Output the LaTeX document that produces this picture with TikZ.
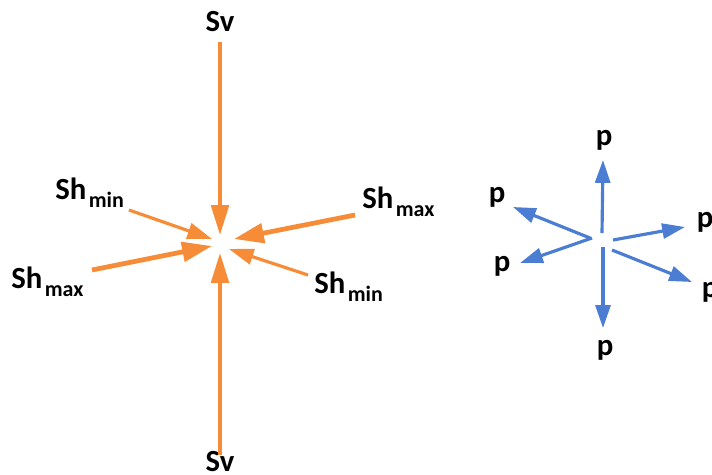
\documentclass[tikz,border=0pt]{standalone}
\usepackage{fontspec}
\setmainfont{Carlito}
\usetikzlibrary{arrows.meta}
\definecolor{stressorange}{HTML}{F68C37}
\definecolor{poreblue}{HTML}{4B7DD2}
\newcommand{\shsub}[1]{\kern0.08em\raisebox{-0.27em}{\fontsize{12.5}{13}\selectfont #1}}
\tikzset{
  lab/.style={font=\fontsize{17.5}{19}\selectfont\bfseries, inner sep=0pt},
  vert/.style={stressorange, line width=2.1pt, -{Triangle[length=17pt,width=10pt]}},
  shmax/.style={stressorange, line width=2.7pt, -{Triangle[length=17pt,width=11pt]}},
  shmin/.style={stressorange, line width=1.8pt, -{Triangle[length=14pt,width=9pt]}},
  pres/.style={poreblue, line width=1.8pt, -{Triangle[length=13pt,width=8.5pt]}}
}
\begin{document}
\begin{tikzpicture}[x=0.02cm, y=-0.02cm]
\useasboundingbox (0,0) rectangle (712,474);

\node[lab, anchor=base] (svtop) at (220,31) {Sv};
\node[lab, anchor=base] (svbot) at (220,471) {Sv};
\node[lab, anchor=base west] (shminl) at (55,199) {Sh\shsub{min}};
\node[lab, anchor=base west] (shmaxr) at (362,208) {Sh\shsub{max}};
\node[lab, anchor=base west] (shmaxl) at (11,288) {Sh\shsub{max}};
\node[lab, anchor=base west] (shminr) at (314,293) {Sh\shsub{min}};

\coordinate (vt0) at (220,42);  \coordinate (vt1) at (220,235);
\coordinate (vb0) at (220,455); \coordinate (vb1) at (220,253);
\coordinate (nl0) at (129,210); \coordinate (nl1) at (212,239);
\coordinate (xr0) at (355,215); \coordinate (xr1) at (234,239);
\coordinate (xl0) at (92,270);  \coordinate (xl1) at (212,246);
\coordinate (nr0) at (308,275); \coordinate (nr1) at (229,249);

\draw[vert] (vt0) -- (vt1);
\draw[vert] (vb0) -- (vb1);
\draw[shmin] (nl0) -- (nl1);
\draw[shmin] (nr0) -- (nr1);
\draw[shmax] (xr0) -- (xr1);
\draw[shmax] (xl0) -- (xl1);

\node[lab] (pup) at (604,140) {p};
\node[lab] (pdown) at (605,350) {p};
\node[lab] (pul) at (497,197) {p};
\node[lab] (pll) at (502,266) {p};
\node[lab] (pur) at (705,222) {p};
\node[lab] (plr) at (710,292) {p};

\coordinate (up0) at (602,233); \coordinate (up1) at (603,160);
\coordinate (dn0) at (603,247); \coordinate (dn1) at (603,328);
\coordinate (ul0) at (590,238); \coordinate (ul1) at (513,207);
\coordinate (ll0) at (592,238); \coordinate (ll1) at (520,263);
\coordinate (ur0) at (613,240); \coordinate (ur1) at (685,227);
\coordinate (lr0) at (612,250); \coordinate (lr1) at (692,282);

\draw[pres] (up0) -- (up1);
\draw[pres] (dn0) -- (dn1);
\draw[pres] (ul0) -- (ul1);
\draw[pres] (ll0) -- (ll1);
\draw[pres] (ur0) -- (ur1);
\draw[pres] (lr0) -- (lr1);
\end{tikzpicture}
\end{document}
